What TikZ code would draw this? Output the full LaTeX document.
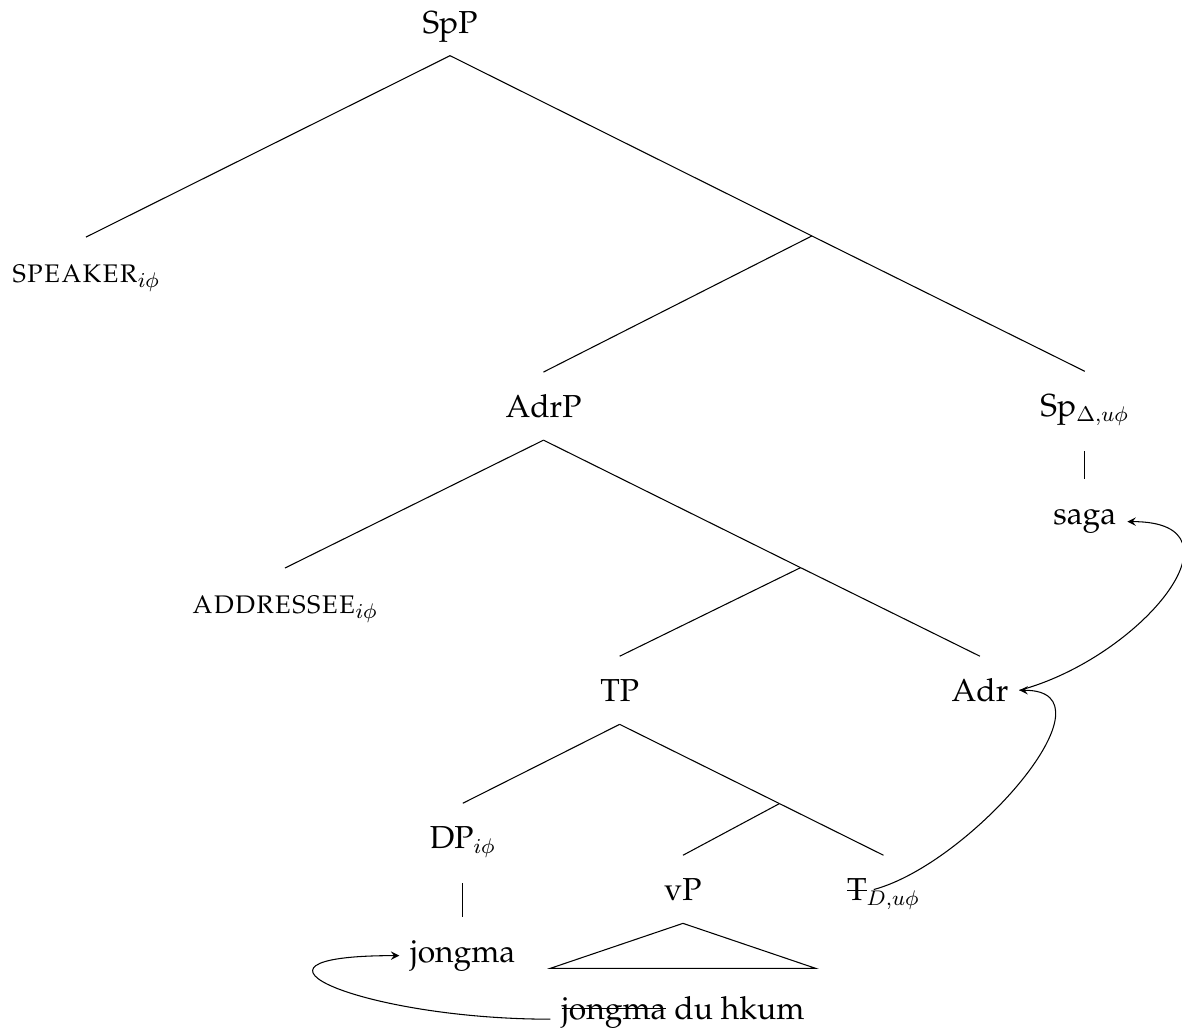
\documentclass[12pt,tikz,border=0pt]{standalone}
\usepackage[T1]{fontenc}
\usepackage{palatino}
\newsavebox\strkbox
\newcommand{\strk}[1]{\sbox\strkbox{#1}\rlap{\usebox\strkbox}\rule[0.65ex]{\wd\strkbox}{0.4pt}}

\begin{document}
\begin{tikzpicture}[>=stealth,
		cat/.style={anchor=base,inner ysep=0pt,text height=17pt,text depth=8.3pt}]
		\useasboundingbox (0,0) rectangle (15.68,-13.63);
		\node[cat](spp) at (5.97,-0.44) {SpP};
		\node[cat](speaker) at (1.14,-3.75) {\textsc{speaker}$_{i\phi}$};
		\coordinate (spbar) at (10.77,-3.13);
		\node[cat](adrp) at (7.21,-5.54) {AdrP};
		\node[cat,text depth=12.8pt](sp) at (14.39,-5.53) {Sp$_{\Delta,u\phi}$};
		\node[cat,text depth=14.7pt](saga) at (14.39,-6.96) {saga};
		\node[cat](addressee) at (3.78,-8.14) {\textsc{addressee}$_{i\phi}$};
		\coordinate (adrbar) at (10.62,-7.53);
		\node[cat](tp) at (8.22,-9.31) {TP};
		\node[cat](adr) at (13.00,-9.31) {Adr};
		\node[cat,text depth=12.8pt](dp) at (6.14,-11.26) {DP$_{i\phi}$};
		\coordinate (tbar) at (10.34,-10.66);
		\node[cat](vp) at (9.06,-11.95) {vP};
		\node[cat](t) at (11.72,-11.95) {\strk{T}$_{D,u\phi}$};
		\node[cat,text depth=11.7pt](jongma) at (6.14,-12.77) {jongma};
		\node[cat,text height=19pt](dhk) at (9.06,-13.52) {\strk{jongma} du hkum};
		\draw (spp.south)--(speaker.north);
		\draw (spp.south)--(spbar);
		\draw (spbar)--(adrp.north);
		\draw (spbar)--(sp.north);
		\draw (sp.south)--(saga.north);
		\draw (adrp.south)--(addressee.north);
		\draw (adrp.south)--(adrbar);
		\draw (adrbar)--(tp.north);
		\draw (adrbar)--(adr.north);
		\draw (tp.south)--(dp.north);
		\draw (tp.south)--(tbar);
		\draw (tbar)--(vp.north);
		\draw (tbar)--(t.north);
		\draw (dp.south)--(jongma.north);
		\draw (vp.south)--(dhk.north west)--(dhk.north east)--cycle;
		\coordinate (thead) at ([shift={(0.5,0.15)}]t.base west);
		\draw[->] (thead) to[out=15,in=0,looseness=1.05] (adr.east);
		\draw[->] (adr.east) to[out=15,in=0,looseness=1.6] (saga.east);
		\draw[->] (dhk.base west) to[out=180,in=180,looseness=2.9] (jongma.west);
	\end{tikzpicture}
\end{document}
